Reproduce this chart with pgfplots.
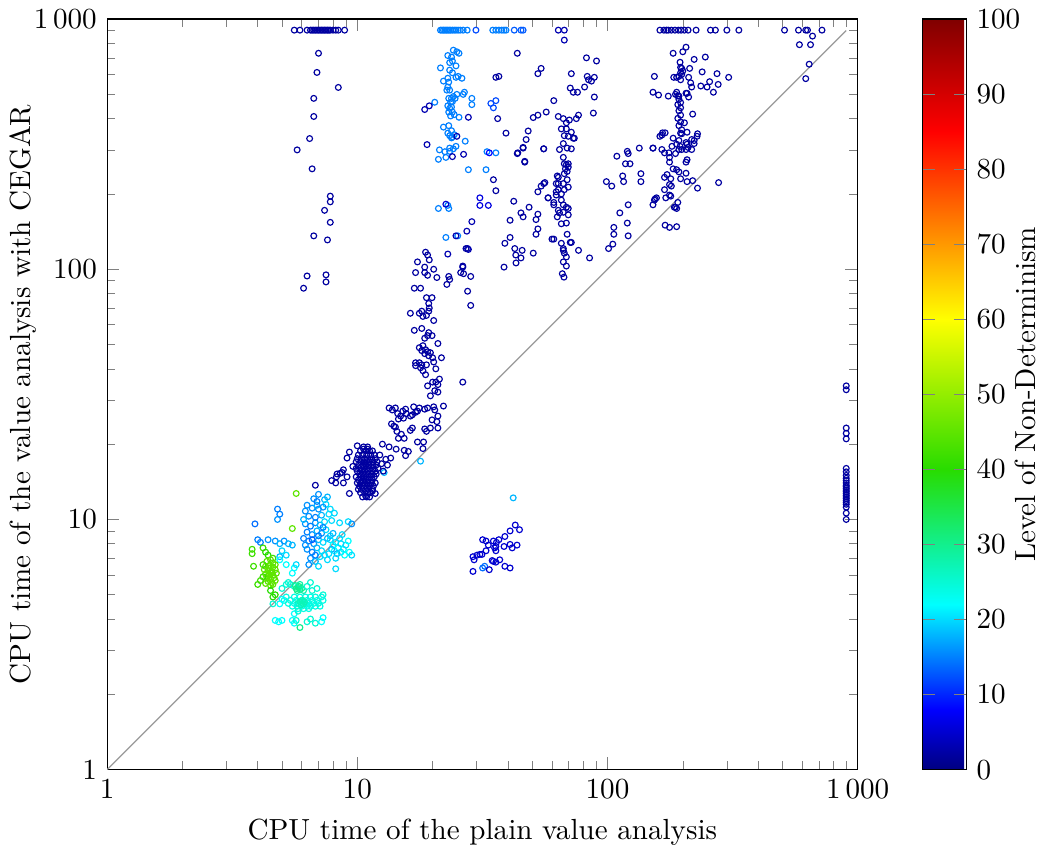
\documentclass[border=0pt]{standalone}
\usepackage{pgfplots}
\pgfplotsset{compat=1.18}
\usepackage{pgfplotstable}

\pgfplotstableread{
x y c
5.6 903 2
5.9 903 2
6.3 903 2
6.5 903 2
6.6 903 2
6.7 903 2
6.8 903 2
6.9 903 2
7.0 903 2
7.1 903 2
7.2 903 2
7.3 903 2
7.4 903 2
7.5 903 2
7.6 903 2
7.7 903 2
7.8 903 2
8.0 903 2
8.2 903 2
8.4 903 2
8.9 903 2
29.8 903 12
63.6 903 3
67.2 903 3
162 903 2
168 903 2
172 903 2
175 903 2
180 903 2
186 903 2
192 903 2
197 903 2
203 903 2
210 903 2
226 903 2
258 903 2
270 903 2
300 903 2
335 903 2
510 903 2
580 903 2
620 903 2
630 903 2
720 903 2
67.2 824 3
585 790 2
648 790 2
660 855 2
640 660 2
620 578 2
7.0 730 2
6.9 612 2
8.4 533 2
6.7 482 2
6.7 408 2
6.45 333 2
5.75 300 2
6.6 252 2
7.8 196 2
7.8 186 2
7.4 172 2
7.8 154 2
6.7 136 2
7.6 131 2
6.3 94 2
7.5 95 2
7.5 89 2
6.1 84 2
}\dataB

\pgfplotstableread{
x y c
21.5 903 15
21.8 903 15
22.1 903 15
22.4 903 15
22.7 903 15
23.0 903 15
23.3 903 15
23.6 903 15
24.0 903 15
24.4 903 15
24.8 903 15
25.3 903 15
25.8 903 15
26.5 903 15
27.5 903 15
34.8 903 15
35.8 903 15
36.8 903 15
37.8 903 15
38.6 903 15
39.3 903 15
42.4 903 13
45.1 903 13
46.0 903 13
24.2 751 15
25.0 740 15
25.5 730 15
23.0 715 15
23.8 705 15
23.4 670 15
24.0 680 15
24.8 650 15
21.5 638 15
23.4 625 15
24.0 610 15
25.3 590 15
26.2 580 15
24.8 585 15
22.1 565 15
23.0 580 15
23.2 560 15
22.8 520 15
23.4 520 15
23.0 535 15
25.0 500 15
26.8 510 15
26.5 500 15
24.2 490 15
23.8 482 15
28.7 482 15
20.4 465 15
23.2 482 15
23.6 465 15
24.0 468 15
24.6 482 15
28.7 455 15
23.0 450 15
23.4 440 15
23.8 445 15
23.2 425 15
24.0 425 15
23.6 410 15
24.4 415 15
25.5 405 15
22.1 370 15
23.2 375 15
23.8 358 15
23.0 350 15
23.4 342 15
24.0 338 15
24.4 345 15
23.8 335 15
27.0 325 15
24.8 310 15
23.4 305 15
22.4 295 15
21.3 300 15
21.1 275 15
22.6 280 15
23.4 296 15
24.2 303 15
27.8 250 15
32.7 250 15
33.0 295 15
35.8 292 15
34.2 460 12
35.0 442 12
35.8 472 12
23.0 180 15
21.1 175 15
23.2 175 15
22.6 134 15
25.2 136 15
}\dataC

\pgfplotstableread{
x y c
18.6 435 3
19.4 450 3
27.8 405 3
25.0 340 3
19.0 315 3
24.0 282 3
26.6 288 3
22.6 182 5
30.9 193 6
30.9 180 6
33.4 180 6
33.7 292 8
28.7 155 3
27.4 142 3
24.8 136 3
27.6 121 3
27.8 120 3
23.0 115 3
26.4 102 3
18.75 117 2
19.1 114 2
19.4 109 2
17.4 107 2
18.6 102 2
20.2 100 2
17.1 97 2
18.6 97 2
19.1 94.6 2
20.8 92.7 2
23.2 93.6 2
23.4 91 2
22.8 87 2
26.4 103 2
25.9 97 2
26.6 96 2
28.4 93.6 2
27.6 81.7 2
28.4 71.7 2
16.9 84 2
17.9 84 2
18.9 77 2
19.9 77 2
19.3 73 2
19.4 70 2
19.3 68 2
18.1 68 2
17.7 66.7 2
16.3 66.7 2
18.9 65.4 2
18.3 64.8 2
20.2 62.4 2
18.1 58 2
16.9 57 2
19.3 55.8 2
19.1 54.3 2
19.9 54.3 2
18.6 53 2
21.0 50.5 2
18.3 49.5 2
18.1 47.3 2
18.75 47.7 2
19.1 46.8 2
19.6 46.4 2
17.7 48.6 2
18.6 46 2
19.3 45.1 2
20.0 44.3 2
17.1 42.3 2
17.7 42.3 2
18.1 41.5 2
17.1 41.2 2
17.9 40.4 2
20.2 42.6 2
21.7 44.3 2
18.9 41.5 2
20.6 40 2
18.3 39.3 2
18.75 37.9 2
21.3 36.4 2
20.0 35.4 2
20.6 35.4 2
21.0 34.6 2
19.1 34.2 2
20.4 32.7 2
21.0 32.3 2
19.6 31.2 2
26.4 35.4 2
22.1 28.4 2
20.2 28.2 2
20.4 27.4 2
21.0 25.9 2
19.9 25 2
20.8 24.6 2
19.6 23.2 2
21.0 23.2 2
13.4 27.9 2
13.8 27.4 2
14.2 27.9 2
14.5 26.5 2
15.2 27.1 2
15.6 27.6 2
14.6 25.2 2
14.9 25.9 2
15.3 25.4 2
15.7 26.5 2
16.3 25.9 2
16.6 26.2 2
17.1 26.8 2
17.4 27.1 2
17.7 27.9 2
16.8 28.2 2
18.6 27.6 2
19.1 27.9 2
13.7 24.1 2
14.0 23.6 2
14.2 23.4 2
14.4 22.5 2
15.0 21.9 2
14.6 21.1 2
15.4 21.1 2
16.6 23.2 2
18.6 23 2
18.9 22.5 2
18.4 20.4 2
18.3 19.2 2
17.4 20.4 2
16.3 22.7 2
17.9 17.1 18
12.8 15.4 18
}\dataD

\pgfplotstableread{
x y c
10.6 19.5 2
11.0 19.5 2
10.3 18.8 2
10.8 18.8 2
11.2 18.8 2
11.5 18.8 2
10.1 18.1 2
10.5 18.1 2
10.9 18.1 2
11.3 18.1 2
11.7 18.1 2
10.0 17.5 2
10.4 17.5 2
10.7 17.5 2
11.0 17.5 2
11.4 17.5 2
11.8 17.5 2
9.9 17.0 2
10.3 17.0 2
10.6 17.0 2
10.9 17.0 2
11.2 17.0 2
11.6 17.0 2
12.0 17.0 2
10.1 16.5 2
10.5 16.5 2
10.8 16.5 2
11.1 16.5 2
11.5 16.5 2
11.9 16.5 2
9.9 16.0 2
10.2 16.0 2
10.6 16.0 2
10.9 16.0 2
11.2 16.0 2
11.6 16.0 2
12.1 16.0 2
10.0 15.6 2
10.4 15.6 2
10.7 15.6 2
11.0 15.6 2
11.4 15.6 2
11.8 15.6 2
10.2 15.2 2
10.5 15.2 2
10.8 15.2 2
11.1 15.2 2
11.5 15.2 2
11.9 15.2 2
9.9 14.8 2
10.3 14.8 2
10.6 14.8 2
10.9 14.8 2
11.3 14.8 2
11.7 14.8 2
10.1 14.4 2
10.5 14.4 2
10.8 14.4 2
11.1 14.4 2
11.5 14.4 2
10.0 14.0 2
10.3 14.0 2
10.7 14.0 2
11.0 14.0 2
11.4 14.0 2
11.8 14.0 2
10.2 13.6 2
10.5 13.6 2
10.9 13.6 2
11.2 13.6 2
11.6 13.6 2
10.1 13.2 2
10.4 13.2 2
10.8 13.2 2
11.1 13.2 2
11.5 13.2 2
10.3 12.8 2
10.7 12.8 2
11.0 12.8 2
11.3 12.8 2
10.5 12.3 2
10.9 12.3 2
11.2 12.3 2
9.3 18.6 2
9.1 17.6 2
8.8 15.8 2
8.7 15.4 2
8.55 15.3 2
8.3 15.2 2
8.25 14.8 2
9.1 14.8 2
7.9 14.3 2
8.8 14.0 2
9.3 12.7 2
8.2 14.0 2
6.8 13.7 2
12.6 20.0 2
13.4 19.5 2
14.3 19.1 2
12.3 18.1 2
13.0 17.4 2
13.6 17.6 2
12.5 16.7 2
13.2 16.5 2
15.4 18.9 2
16.0 18.7 2
15.6 18.0 2
12.7 15.6 2
11.5 13.0 2
11.8 12.7 2
10.8 12.4 2
9.6 16.3 2
10.0 19.7 2
10.6 19.1 2
11.0 19.1 2
900 34.2 2
900 33.0 2
900 23.2 2
900 22.1 2
900 21.0 2
900 16.0 2
900 15.5 2
900 15.0 2
900 14.6 2
900 14.3 2
900 14.0 2
900 13.7 2
900 13.5 2
900 13.3 2
900 13.1 2
900 12.9 2
900 12.7 2
900 12.5 2
900 12.3 2
900 12.1 2
900 11.9 2
900 11.7 2
900 11.5 2
900 11.2 2
900 10.6 2
900 10.0 2
}\dataE

\pgfplotstableread{
x y c
42.0 12.2 18
42.8 9.5 5
44.5 9.1 5
40.8 9.0 5
38.9 8.55 5
36.8 8.3 5
35.0 8.2 5
36.0 8.1 5
35.8 7.8 5
35.4 7.7 5
35.8 7.5 5
31.7 8.3 5
32.7 8.2 5
33.4 7.9 5
38.6 7.8 5
40.8 7.95 5
41.6 7.7 5
43.5 7.9 5
32.7 7.5 5
31.5 7.25 5
30.9 7.25 5
30.1 7.2 5
29.0 7.1 5
29.3 6.9 5
34.6 6.85 5
35.0 6.8 5
37.1 6.9 5
35.8 6.75 5
31.7 6.4 14
32.3 6.5 14
33.7 6.3 5
38.9 6.5 5
40.8 6.4 5
29.0 6.2 5
}\dataG

\pgfplotstableread{
x y c
206 772 2
200 740 2
183 730 2
246 705 2
222 690 2
195 672 2
213 635 2
198 635 2
196 610 2
239 615 2
274 605 2
198 601 2
193 590 2
189 585 2
184 585 2
211 585 2
196 572 2
305 585 2
154 590 2
215 556 2
236 540 2
250 535 2
256 562 2
277 548 2
152 510 2
160 497 2
175 492 2
189 510 2
191 493 2
193 478 2
196 464 2
191 455 2
196 442 2
193 430 2
196 413 2
191 401 2
196 388 2
193 375 2
198 361 2
196 350 2
208 505 2
265 510 2
219 417 2
170 351 2
165 344 2
162 340 2
166 351 2
183 334 2
193 327 2
189 316 2
181 310 2
206 321 2
210 307 2
198 301 2
187 290 2
217 330 2
228 340 2
222 318 2
152 305 2
165 301 2
169 292 2
176 292 2
177 280 2
177 268 2
183 252 2
189 250 2
193 245 2
173 239 2
169 233 2
179 230 2
177 218 2
206 242 2
208 224 2
196 230 2
219 226 2
208 274 2
206 268 2
154 189 2
157 193 2
171 193 2
179 196 2
189 175 2
187 177 2
191 185 2
278 222 2
229 211 2
170 150 2
177 147 2
189 148 2
152 181 2
155 191 2
169 208 2
177 198 2
180 215 2
185 177 2
229 348 2
222 327 2
217 301 2
206 301 2
208 316 2
193 301 2
195 310 2
198 348 2
208 353 2
203 385 2
206 505 2
193 492 2
187 500 2
211 488 2
196 641 2
200 620 2
217 535 2
63.6 408 2
66.6 400 2
68.5 385 2
70.4 395 2
75.1 400 2
76.6 413 2
65.4 364 2
68.5 364 2
71.7 353 2
67.2 342 2
69.7 340 2
73.0 334 2
73.7 334 2
66.6 318 2
64.3 301 2
69.0 305 2
71.7 303 2
66.6 280 2
67.2 264 2
68.5 262 2
69.7 256 2
67.9 252 2
69.0 246 2
67.2 241 2
69.7 264 2
63.6 233 2
62.4 220 2
66.6 220 2
69.0 228 2
69.7 213 2
65.4 200 2
63.6 208 2
62.4 198 2
67.2 208 2
57.9 193 2
61.0 181 2
65.4 189 2
66.6 181 2
68.5 177 2
69.7 175 2
69.7 165 2
66.6 169 2
64.3 168 2
63.0 162 2
63.6 172 2
65.4 152 2
68.5 153 2
69.0 138 2
65.4 127 2
71.0 128 2
66.6 121 2
66.6 119 2
67.2 116 2
68.5 112 2
66.6 107 2
68.5 103 2
66.0 96 2
67.0 93 2
43.6 730 2
54.3 635 2
52.7 605 2
71.7 605 2
82.4 700 2
90.4 680 2
35.8 585 2
36.8 590 2
83.0 590 2
84.0 572 2
88.6 585 2
86.3 565 2
71.0 530 2
73.0 510 2
75.9 510 2
81.0 535 2
88.6 488 2
87.8 421 2
36.4 400 2
39.3 350 2
61.0 472 2
56.9 425 2
52.7 413 2
50.5 404 2
48.2 357 2
47.3 330 2
46.0 307 2
43.6 290 2
46.7 268 2
55.6 303 2
35.0 228 2
35.8 206 2
42.2 187 2
45.1 168 2
46.0 162 2
48.6 177 2
51.8 158 2
52.7 166 2
40.8 157 2
52.7 145 2
51.8 138 2
60.0 132 2
71.7 128 2
38.9 127 2
40.8 134 2
42.6 121 2
45.6 119 2
43.0 114 2
45.1 111 2
43.1 106 2
50.5 116 2
38.6 102 2
76.6 119 2
84.8 111 2
134 305 2
152 305 2
109 283 2
120 296 2
121 290 2
118 264 2
123 264 2
115 236 2
116 224 2
104 215 2
99 224 2
136 241 2
136 224 2
112 168 2
121 181 2
106 147 2
106 138 2
105 126 2
120 153 2
121 136 2
101 121 2
43.8 292 2
46.0 305 2
46.7 270 2
55.6 303 2
54.3 215 2
55.6 220 2
56.2 222 2
52.7 204 2
57.9 193 2
61.0 185 2
62.4 204 2
63.6 220 2
63.0 236 2
61.0 132 2
27.2 121 2
}\dataI

\pgfplotstableread{
x y c
7.0 12.6 16
7.4 12.0 18
7.5 11.5 20
7.3 11.2 16
7.8 11.0 20
6.3 11.4 16
6.6 11.1 16
6.9 11.4 18
7.0 11.0 16
6.4 10.3 16
6.8 10.2 15
7.2 10.4 18
7.7 10.5 20
8.1 10.6 20
6.2 9.6 16
6.5 9.4 15
6.8 9.7 16
7.1 9.5 18
7.4 9.8 20
7.9 9.9 20
8.5 9.7 20
6.3 8.9 15
6.6 8.7 16
6.9 9.0 18
7.2 8.8 16
7.5 9.1 20
7.8 8.6 20
6.4 8.2 15
6.7 8.0 16
7.0 8.3 18
7.3 8.1 20
7.6 8.4 18
6.3 7.6 16
6.6 7.4 15
6.9 7.7 18
7.2 7.5 20
6.5 7.0 16
6.8 6.8 18
7.1 7.1 20
7.4 7.2 20
6.4 6.6 16
7.0 6.5 20
7.6 6.9 20
6.2 7.9 16
6.1 8.4 15
6.7 12.1 16
6.9 11.8 15
7.6 12.3 18
6.2 10.8 16
6.1 10.0 18
7.3 9.3 15
7.0 8.6 15
6.6 8.3 13
6.8 7.2 15
7.8 8.3 20
8.0 7.9 22
8.2 8.1 20
8.4 7.7 22
8.6 8.0 20
8.8 7.6 22
9.0 7.9 20
9.3 7.4 22
9.5 7.2 20
8.1 7.5 22
8.3 7.3 18
8.6 7.4 20
8.9 7.2 22
7.9 7.6 18
8.5 8.4 20
9.2 8.2 22
8.0 8.8 18
8.7 8.7 20
7.7 7.3 20
8.2 7.0 20
8.2 6.35 20
9.2 9.8 20
9.5 9.6 16
4.8 11.0 15
4.9 10.5 15
4.8 10.0 16
3.9 9.6 14
5.5 9.2 45
5.7 12.7 45
4.0 8.3 15
4.1 8.1 15
4.4 8.3 16
4.7 8.2 16
4.9 8.0 18
5.1 8.2 16
5.3 8.0 18
5.5 7.9 18
3.8 7.6 42
3.8 7.3 42
3.85 6.5 42
4.2 7.7 42
4.4 7.2 40
4.6 7.0 42
4.3 7.4 40
5.0 7.5 20
5.2 7.2 20
4.9 7.1 18
4.9 6.9 22
5.2 6.6 22
4.35 6.8 45
4.5 6.9 45
4.6 6.7 45
4.3 6.5 45
4.45 6.55 45
4.6 6.45 45
4.7 6.6 45
4.25 6.3 45
4.4 6.25 45
4.55 6.2 45
4.7 6.3 45
4.3 6.05 45
4.45 6.0 45
4.6 6.0 45
4.75 6.1 45
4.35 5.85 45
4.5 5.8 45
4.65 5.85 45
4.4 5.65 45
4.55 5.6 45
4.7 5.7 45
4.3 5.55 45
4.5 5.45 45
4.6 5.5 45
4.45 6.4 45
4.55 6.1 45
4.4 5.95 45
4.5 6.15 45
4.2 5.9 42
4.1 5.7 42
4.0 5.5 42
4.5 5.2 40
4.6 4.9 40
4.6 4.6 25
4.7 5.0 40
4.2 6.6 42
5.5 6.1 22
5.6 6.4 22
5.7 6.6 20
5.3 5.6 25
5.4 5.5 25
5.6 5.4 25
5.7 5.3 30
5.8 5.35 30
5.9 5.25 30
5.75 5.2 30
5.85 5.4 30
6.0 5.3 30
5.65 5.45 30
6.1 5.2 28
5.9 5.5 28
5.0 5.3 25
5.2 5.5 25
6.3 5.4 25
6.6 5.2 25
6.9 5.3 25
7.3 5.0 25
6.5 5.6 25
5.2 4.9 24
5.6 4.9 24
5.9 4.9 24
6.2 4.9 24
6.5 4.9 24
6.8 4.9 24
7.2 4.9 24
5.1 4.75 24
5.4 4.75 24
5.7 4.75 24
6.0 4.75 27
6.3 4.75 24
6.6 4.75 24
6.9 4.75 24
7.3 4.75 24
5.3 4.62 24
5.6 4.62 24
5.8 4.62 27
6.0 4.62 27
6.2 4.62 24
6.4 4.62 24
6.7 4.62 24
7.0 4.62 24
5.5 4.5 24
5.75 4.5 24
6.0 4.5 24
6.3 4.5 24
6.5 4.5 24
6.8 4.5 24
7.1 4.5 24
5.8 4.4 24
6.1 4.4 24
6.4 4.4 24
5.9 4.7 27
6.1 4.6 27
6.05 4.75 27
5.95 4.55 27
6.15 4.68 27
4.7 3.95 22
4.85 3.9 22
5.0 3.95 22
5.5 3.95 22
5.6 3.85 22
5.7 3.95 25
5.9 3.7 30
6.3 3.9 25
6.5 4.0 25
6.8 3.85 25
7.2 3.9 22
7.3 4.05 22
5.6 4.2 22
5.8 4.3 25
4.9 4.6 22
5.0 4.8 22
}\dataF

\pgfplotsset{
  colormap={ndmap}{rgb255(0pt)=(0,0,128); rgb255(8pt)=(0,0,255); rgb255(22pt)=(0,255,255); rgb255(40pt)=(40,220,0); rgb255(60pt)=(255,255,0); rgb255(85pt)=(255,0,0); rgb255(100pt)=(128,0,0)},
  sc/.style={scatter, only marks, mark=o, mark size=1.0pt, scatter src=explicit,
    scatter/use mapped color={draw=mapped color, fill=none}},
}

\begin{document}
\begin{tikzpicture}
\begin{loglogaxis}[
  scale only axis,
  width=258pt, height=258pt,
  xmin=1, xmax=1000, ymin=1, ymax=1000,
  xtick={1,10,100,1000}, xticklabels={$1$,$10$,$100$,$1\,000$},
  ytick={1,10,100,1000}, yticklabels={$1$,$10$,$100$,$1\,000$},
  xlabel={CPU time of the plain value analysis},
  ylabel={CPU time of the value analysis with CEGAR},
  ylabel shift=-7.8pt,
  colormap name=ndmap,
  point meta min=0, point meta max=100,
  colorbar,
  colorbar style={
    at={(parent axis.north east)}, anchor=north west, xshift=13.8pt,
    width=15pt,
    ytick={0,10,...,100},
    ylabel={Level of Non-Determinism},
    ylabel shift=-8.5pt,
  },
]
\addplot[black!40, no marks, line width=0.4pt] coordinates {(1,1) (900,900)};
\addplot[sc] table[x=x, y=y, meta=c] {\dataF};
\addplot[sc] table[x=x, y=y, meta=c] {\dataC};
\addplot[sc] table[x=x, y=y, meta=c] {\dataG};
\addplot[sc] table[x=x, y=y, meta=c] {\dataB};
\addplot[sc] table[x=x, y=y, meta=c] {\dataD};
\addplot[sc] table[x=x, y=y, meta=c] {\dataE};
\addplot[sc] table[x=x, y=y, meta=c] {\dataI};
\end{loglogaxis}
\end{tikzpicture}
\end{document}
